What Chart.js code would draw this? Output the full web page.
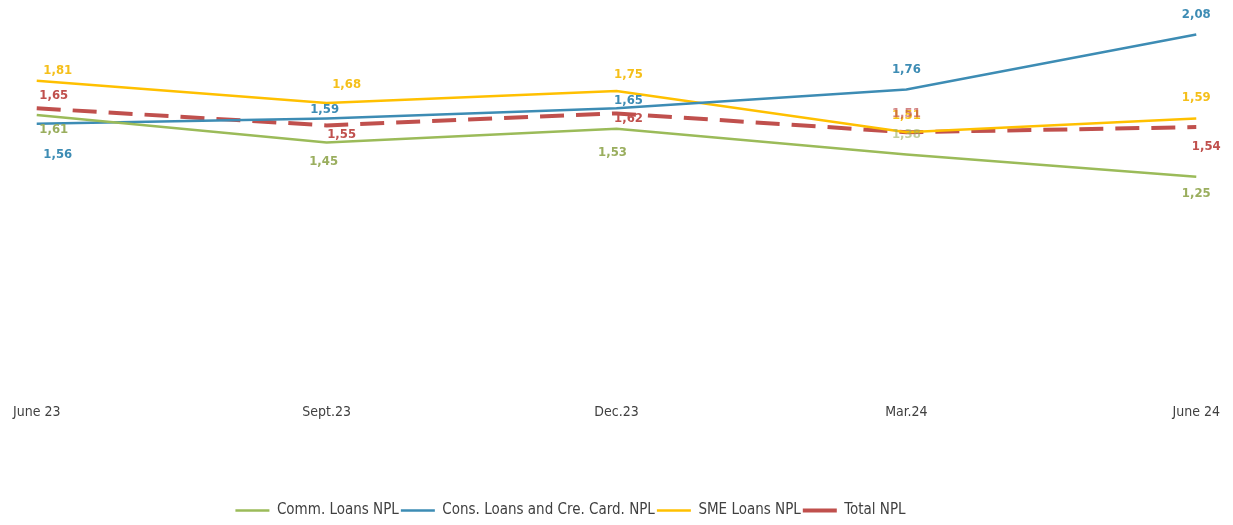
<!DOCTYPE html>
<html>
<head>
<meta charset="utf-8">
<script src="https://cdn.jsdelivr.net/npm/chart.js@4/dist/chart.umd.min.js"></script>
<style>
html,body{margin:0;padding:0;background:#fff;}
#wrap{width:1233px;height:525px;position:relative;}
</style>
</head>
<body>
<div id="wrap"><canvas id="c" width="1233" height="525"></canvas></div>
<script>
const categories = ["June 23", "Sept.23", "Dec.23", "Mar.24", "June 24"];
const commLoans = [1.61, 1.45, 1.53, 1.38, 1.25];
const consLoans = [1.56, 1.59, 1.65, 1.76, 2.08];
const smeLoans = [1.81, 1.68, 1.75, 1.51, 1.59];
const totalNpl = [1.65, 1.55, 1.62, 1.51, 1.54];
const seriesNames = ["Comm. Loans NPL", "Cons. Loans and Cre. Card. NPL", "SME Loans NPL", "Total NPL"];

// label placement (pixels, relative to the point) per series
const labelOffsets = [
  [[17,15],[-3,19],[-4,24],[0,-20],[0,17]],
  [[21,31],[-2,-9],[12,-8],[0,-20],[0,-20]],
  [[21,-10],[20,-18],[12,-16],[0,-17],[0,-21]],
  [[17,-13],[15,9],[12,5],[0,-19],[10,20]]
];
const labelColors = ["#9aae5e", "#3d8cb4", "#f5bf1a", "#c0504d"];
const FONT = "'DejaVu Sans Condensed', 'Liberation Sans Narrow', 'Liberation Sans', sans-serif";

const valueLabels = {
  id: 'valueLabels',
  afterDatasetsDraw(chart) {
    const ctx = chart.ctx;
    ctx.save();
    ctx.font = "bold 13px " + FONT;
    ctx.textAlign = 'center';
    ctx.textBaseline = 'middle';
    chart.data.datasets.forEach((ds, i) => {
      const meta = chart.getDatasetMeta(i);
      meta.data.forEach((pt, j) => {
        const off = labelOffsets[i][j];
        ctx.fillStyle = labelColors[i];
        ctx.globalAlpha = (i === 3 && j === 3) ? 0.7 : (i === 0 && j === 3 ? 0.6 : 1);
        ctx.fillText(ds.data[j].toFixed(2).replace('.', ','), pt.x + off[0], pt.y + off[1]);
      });
    });
    ctx.restore();
  }
};

// shift the legend block to where the reference places it
const legendShift = {
  id: 'legendShift',
  beforeInit(chart) {
    const lg = chart.legend;
    if (!lg) return;
    const orig = lg.draw.bind(lg);
    lg.draw = function () {
      const ctx = this.ctx;
      ctx.save();
      ctx.translate(-47, 5);
      orig();
      ctx.restore();
    };
  }
};

new Chart(document.getElementById('c'), {
  type: 'line',
  data: {
    labels: categories,
    datasets: [
      {label: seriesNames[0], data: commLoans, borderColor: '#9bbb59', backgroundColor: '#9bbb59', borderWidth: 2.5, pointRadius: 0, tension: 0},
      {label: seriesNames[1], data: consLoans, borderColor: '#3d8cb4', backgroundColor: '#3d8cb4', borderWidth: 2.5, pointRadius: 0, tension: 0},
      {label: seriesNames[2], data: smeLoans, borderColor: '#ffc000', backgroundColor: '#ffc000', borderWidth: 2.5, pointRadius: 0, tension: 0},
      {label: seriesNames[3], data: totalNpl, borderColor: '#c0504d', backgroundColor: '#c0504d', borderWidth: 4, borderDash: [24, 12], pointRadius: 0, tension: 0}
    ]
  },
  options: {
    responsive: false,
    animation: false,
    layout: {padding: {left: 35, right: 33, top: 14, bottom: 2}},
    scales: {
      x: {
        offset: false,
        grid: {display: false, drawTicks: false},
        border: {display: false},
        afterFit(scale) { scale.height = 105; },
        ticks: {
          color: '#404040',
          padding: 13,
          maxRotation: 0,
          font: {family: FONT, size: 14}
        }
      },
      y: {
        display: false,
        min: 0,
        max: 2.2
      }
    },
    plugins: {
      legend: {
        position: 'bottom',
        labels: {
          usePointStyle: true,
          pointStyle: 'line',
          pointStyleWidth: 34,
          padding: 2,
          color: '#404040',
          font: {family: FONT, size: 15}
        }
      },
      tooltip: {enabled: false}
    }
  },
  plugins: [valueLabels, legendShift]
});
</script>
</body>
</html>
